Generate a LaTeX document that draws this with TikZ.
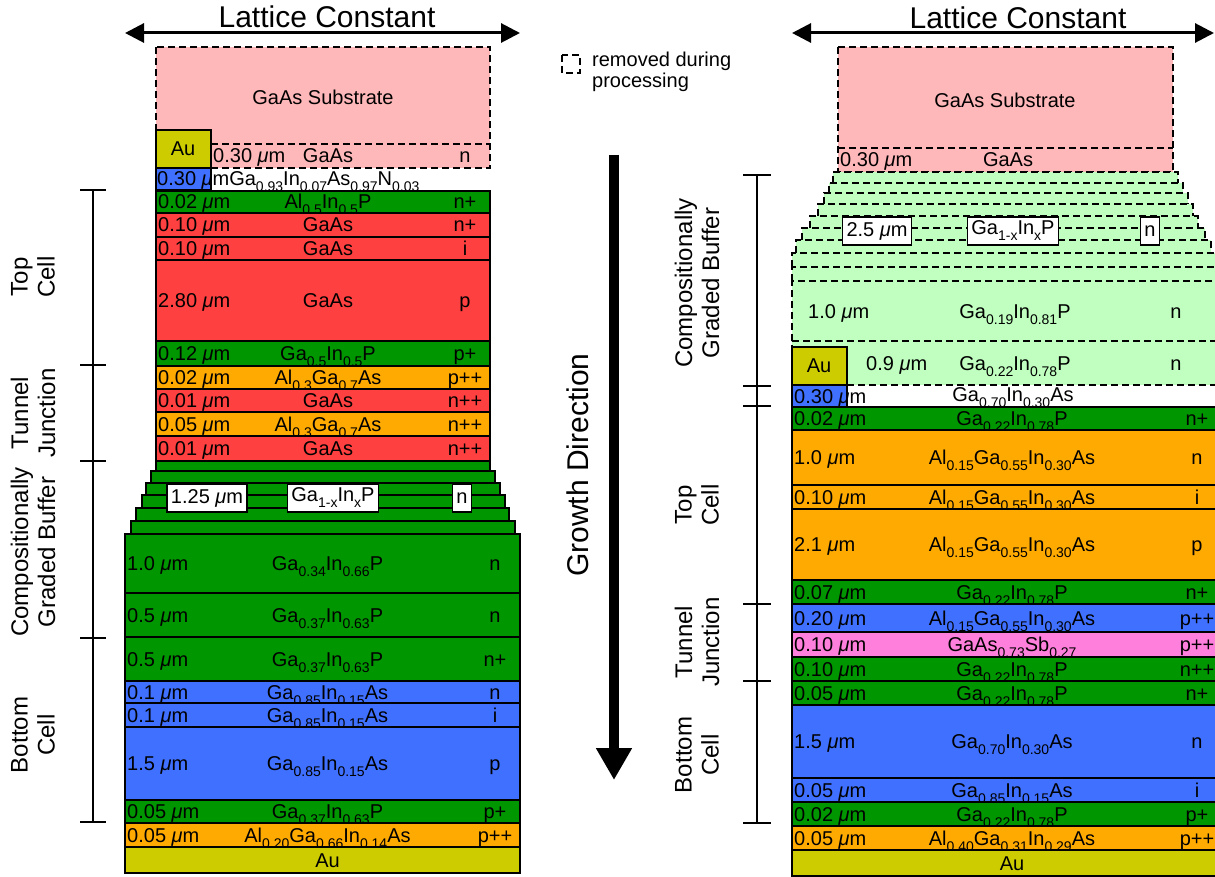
\documentclass[tikz,border=0pt]{standalone}
\usepackage{fontspec}
\setmainfont{Liberation Sans}
\usepackage{tikz}
\usetikzlibrary{arrows.meta}
\usepackage{xcolor}

\definecolor{subpink}{RGB}{255,184,186}
\definecolor{lyred}{RGB}{255,64,64}
\definecolor{lygreen}{RGB}{0,150,0}
\definecolor{lyorange}{RGB}{255,170,0}
\definecolor{lyblue}{RGB}{64,112,255}
\definecolor{lygold}{RGB}{204,204,0}
\definecolor{lymint}{RGB}{192,255,192}
\definecolor{lymagenta}{RGB}{255,128,220}

\newcommand{\umic}{\textit{μ}m}
\newcommand{\lsub}[1]{\raisebox{-0.3em}{\fontsize{14}{14}\selectfont #1}}
% name, left, top, right, bottom, colour, thickness, composition, doping
\newcommand{\layer}[9]{%
    \draw[layer, fill=#6] (#2,#3) rectangle (#4,#5);
    \node[lbl, anchor=base west] (#1-t) at ({#2+2},{(#3+#5)/2+7}) {#7};
    \node[lbl, anchor=base] (#1-c) at ({(#2+#4)/2+5},{(#3+#5)/2+7}) {#8};
    \node[lbl, anchor=base] (#1-d) at ({#4-25},{(#3+#5)/2+7}) {#9};
}
% dashed step of the removed buffer: left, top, right, bottom
\newcommand{\buffstep}[4]{%
    \fill[lymint] (#1,#2) rectangle (#3,#4);
    \draw[removed] (#1,#4) |- (#3,#2) -- (#3,#4);
}

\begin{document}
\begin{tikzpicture}[
    x=1pt, y=-1pt,
    layer/.style={draw=black, line width=1.2pt},
    removed/.style={draw=black, line width=1.4pt, dash pattern=on 7pt off 4pt},
    lbl/.style={inner sep=0pt, font=\fontsize{20}{21}\selectfont},
    tagbox/.style={draw, fill=white, line width=1.2pt, inner xsep=4pt, inner ysep=0pt,
        minimum height=28pt, font=\fontsize{20}{21}\selectfont},
    side/.style={rotate=90, align=center, font=\fontsize{24}{27}\selectfont},
    title/.style={font=\fontsize{30}{32}\selectfont},
    bracket/.style={line width=2.5pt},
    latarrow/.style={line width=3pt, <->, >={Triangle[width=19pt,length=19pt]}},
    growth/.style={line width=10pt, -{Triangle[width=34pt,length=32pt]}}
]
    \useasboundingbox (0,0) rectangle (1215,877);

    % lattice constant arrows
    \node[title] (lcL) at (327,17) {Lattice Constant};
    \node[title] (lcR) at (1018,18) {Lattice Constant};
    \coordinate (lcL-w) at (125,33);
    \coordinate (lcL-e) at (520,33);
    \coordinate (lcR-w) at (792,33);
    \coordinate (lcR-e) at (1214,33);
    \draw[latarrow] (lcL-w) -- (lcL-e);
    \draw[latarrow] (lcR-w) -- (lcR-e);

    % ---- left structure ----
    \fill[subpink] (156,47) rectangle (490,168);
    \draw[removed] (156,47) rectangle (490,168);
    \draw[removed] (211,144) -- (490,144);
    \node[lbl] (subL) at (323,97) {GaAs Substrate};
    \node[lbl, anchor=base west] (capL-t) at (213,163) {0.30 \umic};
    \node[lbl, anchor=base] (capL-c) at (328,163) {GaAs};
    \node[lbl, anchor=base] (capL-d) at (465,163) {n};
    \draw[layer, fill=lygold] (156,130) rectangle (211,168);
    \node[lbl] (auL) at (183,149) {Au};
    \draw[layer, fill=lyblue] (156,168) rectangle (211,190);
    \node[lbl, anchor=base west] (etchL) at (157,186)
        {0.30 \umic Ga\lsub{0.93}In\lsub{0.07}As\lsub{0.97}N\lsub{0.03}};

    \layer{L1}{156}{191}{490}{213}{lygreen}{0.02 \umic}{Al\lsub{0.5}In\lsub{0.5}P}{n+}
    \layer{L2}{156}{213}{490}{237}{lyred}{0.10 \umic}{GaAs}{n+}
    \layer{L3}{156}{237}{490}{260}{lyred}{0.10 \umic}{GaAs}{i}
    \layer{L4}{156}{260}{490}{341}{lyred}{2.80 \umic}{GaAs}{p}
    \layer{L5}{156}{341}{490}{366}{lygreen}{0.12 \umic}{Ga\lsub{0.5}In\lsub{0.5}P}{p+}
    \layer{L6}{156}{366}{490}{389}{lyorange}{0.02 \umic}{Al\lsub{0.3}Ga\lsub{0.7}As}{p++}
    \layer{L7}{156}{389}{490}{412}{lyred}{0.01 \umic}{GaAs}{n++}
    \layer{L8}{156}{412}{490}{436}{lyorange}{0.05 \umic}{Al\lsub{0.3}Ga\lsub{0.7}As}{n++}
    \layer{L9}{156}{436}{490}{461}{lyred}{0.01 \umic}{GaAs}{n++}

    % graded buffer steps
    \draw[layer, fill=lygreen] (156,461) rectangle (490,471);
    \draw[layer, fill=lygreen] (151,471) rectangle (495,483);
    \draw[layer, fill=lygreen] (146,483) rectangle (500,495);
    \draw[layer, fill=lygreen] (142,495) rectangle (505,508);
    \draw[layer, fill=lygreen] (136,508) rectangle (509,521);
    \draw[layer, fill=lygreen] (131,521) rectangle (515,534);
    \node[tagbox] (gbL-t) at (207,498) {1.25 \umic};
    \node[tagbox] (gbL-c) at (333,498) {Ga\lsub{1-x}In\lsub{x}P};
    \node[tagbox] (gbL-d) at (462,498) {n};

    \layer{L10}{125}{534}{520}{593}{lygreen}{1.0 \umic}{Ga\lsub{0.34}In\lsub{0.66}P}{n}
    \layer{L11}{125}{593}{520}{637}{lygreen}{0.5 \umic}{Ga\lsub{0.37}In\lsub{0.63}P}{n}
    \layer{L12}{125}{637}{520}{681}{lygreen}{0.5 \umic}{Ga\lsub{0.37}In\lsub{0.63}P}{n+}
    \layer{L13}{125}{681}{520}{703}{lyblue}{0.1 \umic}{Ga\lsub{0.85}In\lsub{0.15}As}{n}
    \layer{L14}{125}{703}{520}{727}{lyblue}{0.1 \umic}{Ga\lsub{0.85}In\lsub{0.15}As}{i}
    \layer{L15}{125}{727}{520}{800}{lyblue}{1.5 \umic}{Ga\lsub{0.85}In\lsub{0.15}As}{p}
    \layer{L16}{125}{800}{520}{823}{lygreen}{0.05 \umic}{Ga\lsub{0.37}In\lsub{0.63}P}{p+}
    \layer{L17}{125}{823}{520}{847}{lyorange}{0.05 \umic}{Al\lsub{0.20}Ga\lsub{0.66}In\lsub{0.14}As}{p++}
    \layer{L18}{125}{847}{520}{873}{lygold}{}{Au}{}

    % left brackets
    \coordinate (bl1) at (93,190);
    \coordinate (bl2) at (93,365);
    \coordinate (bl3) at (93,461);
    \coordinate (bl4) at (93,638);
    \coordinate (bl5) at (93,822);
    \draw[bracket] (bl1) -- (bl5);
    \draw[bracket] ([xshift=-13pt]bl1) -- ([xshift=13pt]bl1);
    \draw[bracket] ([xshift=-13pt]bl2) -- ([xshift=13pt]bl2);
    \draw[bracket] ([xshift=-13pt]bl3) -- ([xshift=13pt]bl3);
    \draw[bracket] ([xshift=-13pt]bl4) -- ([xshift=13pt]bl4);
    \draw[bracket] ([xshift=-13pt]bl5) -- ([xshift=13pt]bl5);
    \node[side] (topL) at (33,277) {Top\\Cell};
    \node[side] (tjL) at (33,413) {Tunnel\\Junction};
    \node[side] (cgbL) at (33,552) {Compositionally\\Graded Buffer};
    \node[side] (botL) at (33,735) {Bottom\\Cell};

    % ---- middle ----
    \draw[removed] (562,55) rectangle (580,73);
    \node[lbl, anchor=north west, align=left] (legend) at (592,52) {removed during\\processing};
    \coordinate (gd-top) at (614,155);
    \coordinate (gd-tip) at (614,780);
    \draw[growth] (gd-top) -- (gd-tip);
    \node[side, font=\fontsize{30}{32}\selectfont] (gdLbl) at (578,465) {Growth Direction};

    % ---- right structure ----
    \fill[subpink] (838,47) rectangle (1173,172);
    \draw[removed] (838,47) rectangle (1173,172);
    \draw[removed] (838,148) -- (1173,148);
    \node[lbl] (subR) at (1005,100) {GaAs Substrate};
    \node[lbl, anchor=base west] (capR-t) at (840,167) {0.30 \umic};
    \node[lbl, anchor=base] (capR-c) at (1008,167) {GaAs};

    % graded buffer (removed)
    \buffstep{833}{172}{1178}{183}
    \buffstep{829}{183}{1183}{193}
    \buffstep{824}{193}{1188}{204}
    \buffstep{818}{204}{1193}{216}
    \buffstep{810}{216}{1198}{228}
    \buffstep{802}{228}{1205}{240}
    \buffstep{796}{240}{1211}{253}
    \buffstep{792}{253}{1216}{267}
    \buffstep{792}{267}{1222}{281}
    \buffstep{792}{281}{1222}{341}
    \buffstep{792}{341}{1222}{385}
    \draw[removed] (792,385) -- (1222,385);
    \node[tagbox] (gbR-t) at (877,231) {2.5 \umic};
    \node[tagbox] (gbR-c) at (1013,231) {Ga\lsub{1-x}In\lsub{x}P};
    \node[tagbox] (gbR-d) at (1150,231) {n};
    \node[lbl, anchor=base west] (gr1-t) at (808,318) {1.0 \umic};
    \node[lbl, anchor=base] (gr1-c) at (1015,318) {Ga\lsub{0.19}In\lsub{0.81}P};
    \node[lbl, anchor=base] (gr1-d) at (1176,318) {n};
    \node[lbl, anchor=base west] (gr2-t) at (866,370) {0.9 \umic};
    \node[lbl, anchor=base] (gr2-c) at (1015,370) {Ga\lsub{0.22}In\lsub{0.78}P};
    \node[lbl, anchor=base] (gr2-d) at (1176,370) {n};

    \draw[layer, fill=lygold] (792,347) rectangle (847,385);
    \node[lbl] (auR) at (819,366) {Au};
    \draw[layer, fill=lyblue] (792,385) rectangle (847,407);
    \node[lbl, anchor=base west] (etchR-t) at (794,403) {0.30 \umic};
    \node[lbl, anchor=base] (etchR-c) at (1013,401) {Ga\lsub{0.70}In\lsub{0.30}As};

    \layer{R1}{792}{407}{1222}{430}{lygreen}{0.02 \umic}{Ga\lsub{0.22}In\lsub{0.78}P}{n+}
    \layer{R2}{792}{430}{1222}{485}{lyorange}{1.0 \umic}{Al\lsub{0.15}Ga\lsub{0.55}In\lsub{0.30}As}{n}
    \layer{R3}{792}{485}{1222}{509}{lyorange}{0.10 \umic}{Al\lsub{0.15}Ga\lsub{0.55}In\lsub{0.30}As}{i}
    \layer{R4}{792}{509}{1222}{580}{lyorange}{2.1 \umic}{Al\lsub{0.15}Ga\lsub{0.55}In\lsub{0.30}As}{p}
    \layer{R5}{792}{580}{1222}{604}{lygreen}{0.07 \umic}{Ga\lsub{0.22}In\lsub{0.78}P}{n+}
    \layer{R6}{792}{604}{1222}{632}{lyblue}{0.20 \umic}{Al\lsub{0.15}Ga\lsub{0.55}In\lsub{0.30}As}{p++}
    \layer{R7}{792}{632}{1222}{657}{lymagenta}{0.10 \umic}{GaAs\lsub{0.73}Sb\lsub{0.27}}{p++}
    \layer{R8}{792}{657}{1222}{681}{lygreen}{0.10 \umic}{Ga\lsub{0.22}In\lsub{0.78}P}{n++}
    \layer{R9}{792}{681}{1222}{705}{lygreen}{0.05 \umic}{Ga\lsub{0.22}In\lsub{0.78}P}{n+}
    \layer{R10}{792}{705}{1222}{778}{lyblue}{1.5 \umic}{Ga\lsub{0.70}In\lsub{0.30}As}{n}
    \layer{R11}{792}{778}{1222}{802}{lyblue}{0.05 \umic}{Ga\lsub{0.85}In\lsub{0.15}As}{i}
    \layer{R12}{792}{802}{1222}{826}{lygreen}{0.02 \umic}{Ga\lsub{0.22}In\lsub{0.78}P}{p+}
    \layer{R13}{792}{826}{1222}{850}{lyorange}{0.05 \umic}{Al\lsub{0.40}Ga\lsub{0.31}In\lsub{0.29}As}{p++}
    \layer{R14}{792}{850}{1222}{876}{lygold}{}{Au}{}

    % right brackets
    \coordinate (br1) at (757,175);
    \coordinate (br2) at (757,386);
    \coordinate (br3) at (757,406);
    \coordinate (br4) at (757,604);
    \coordinate (br5) at (757,681);
    \coordinate (br6) at (757,823);
    \draw[bracket] (br1) -- (br6);
    \draw[bracket] ([xshift=-14pt]br1) -- ([xshift=14pt]br1);
    \draw[bracket] ([xshift=-14pt]br2) -- ([xshift=14pt]br2);
    \draw[bracket] ([xshift=-14pt]br3) -- ([xshift=14pt]br3);
    \draw[bracket] ([xshift=-14pt]br4) -- ([xshift=14pt]br4);
    \draw[bracket] ([xshift=-14pt]br5) -- ([xshift=14pt]br5);
    \draw[bracket] ([xshift=-14pt]br6) -- ([xshift=14pt]br6);
    \node[side] (cgbR) at (697,283) {Compositionally\\Graded Buffer};
    \node[side] (topR) at (697,505) {Top\\Cell};
    \node[side] (tjR) at (697,642) {Tunnel\\Junction};
    \node[side] (botR) at (697,755) {Bottom\\Cell};
\end{tikzpicture}
\end{document}
